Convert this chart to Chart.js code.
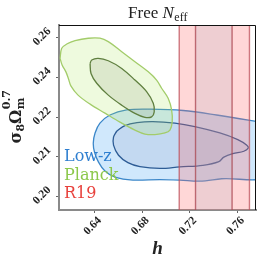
<!DOCTYPE html>
<html><head><meta charset="utf-8">
<script src="https://cdn.jsdelivr.net/npm/chart.js@4/dist/chart.umd.min.js"></script>
<style>html,body{margin:0;padding:0;background:#fff;overflow:hidden}#wrap{width:266px;height:266px}</style>
</head><body><div id="wrap"><canvas id="c" width="266" height="266"></canvas></div>
<script>
// ---- text ----
const titleMain = 'Free ';
const titleSym = 'N';
const titleSub = 'eff';
const xLabel = 'h';
const seriesNames = ['Low-z', 'Planck', 'R19'];
// ---- ticks ----
const hTicks = [0.64, 0.68, 0.72, 0.76];
const hTickLabels = ['0.64', '0.68', '0.72', '0.76'];
const sTicks = [0.195, 0.21, 0.225, 0.24, 0.255];
const sTickLabels = ['0.20', '0.21', '0.22', '0.24', '0.26'];
// ---- Low-z contours (h, sigma8*Om^0.7) ----
const lowz95H = [0.785,0.7424,0.7143,0.6864,0.6668,0.6528,0.6444,0.6403,0.6388,0.6398,0.6432,0.6486,0.6570,0.6721,0.6948,0.7116,0.7283,0.7466,0.785,0.785];
const lowz95S = [0.2227,0.2258,0.2275,0.2280,0.2277,0.2258,0.2227,0.2190,0.2152,0.2118,0.2080,0.2046,0.2023,0.2012,0.2014,0.2012,0.2008,0.2017,0.2031,0.2227];
const lowz68H = [0.6585,0.6654,0.6755,0.6889,0.7074,0.7241,0.7451,0.7602,0.7678,0.7690,0.7653,0.7560,0.7485,0.7443,0.7309,0.7116,0.6948,0.6780,0.6679,0.6600,0.6558,0.6558,0.6585];
const lowz68S = [0.2197,0.2218,0.2229,0.2233,0.2227,0.2214,0.2190,0.2165,0.2144,0.2133,0.2121,0.2112,0.2099,0.2082,0.2068,0.2062,0.2056,0.2063,0.2078,0.2106,0.2144,0.2174,0.2197];
// ---- Planck contours ----
const planck95H = [0.6109,0.6123,0.6165,0.6235,0.6346,0.6444,0.6514,0.6627,0.6738,0.6850,0.6920,0.6962,0.7017,0.7046,0.7051,0.7032,0.6990,0.6906,0.6822,0.6738,0.6612,0.6486,0.6361,0.6260,0.6201,0.6180,0.6159,0.6126,0.6109];
const planck95S = [0.2472,0.2510,0.2526,0.2539,0.2548,0.2548,0.2535,0.2497,0.2459,0.2421,0.2390,0.2359,0.2321,0.2277,0.2232,0.2201,0.2190,0.2184,0.2186,0.2201,0.2231,0.2265,0.2299,0.2333,0.2367,0.2394,0.2420,0.2447,0.2472];
const planck68H = [0.6361,0.6375,0.6430,0.6514,0.6627,0.6738,0.6836,0.6892,0.6900,0.6878,0.6822,0.6738,0.6627,0.6514,0.6417,0.6369,0.6361];
const planck68S = [0.2453,0.2466,0.2472,0.2463,0.2434,0.2390,0.2346,0.2302,0.2270,0.2251,0.2249,0.2264,0.2295,0.2333,0.2378,0.2415,0.2453];
// ---- R19 bands (h edges) ----
const r19Outer = [0.711, 0.770];
const r19Inner = [0.7247, 0.7554];
// ---- axis ranges ----
const hRange = [0.610, 0.7755];
const sRange = [0.1899, 0.2598];

const pts = (H, S) => H.map((h, i) => ({x: h, y: S[i]}));
const band = (e) => [{x:e[0],y:0.15},{x:e[0],y:0.30},{x:e[1],y:0.30},{x:e[1],y:0.15},{x:e[0],y:0.15}];

const contour = (label, data, fillC, lineC, order, lw) => ({
  label, data, showLine: true, fill: 'shape', backgroundColor: fillC, borderColor: lineC,
  borderWidth: lw, pointRadius: 0, pointHoverRadius: 0, tension: 0.35, order
});

const datasets = [
  contour(seriesNames[0] + ' 95', pts(lowz95H, lowz95S), 'rgba(120,190,245,0.35)', '#3b87c9', 8, 1.3),
  contour(seriesNames[0] + ' 68', pts(lowz68H, lowz68S), 'rgba(110,125,175,0.14)', '#2d5c95', 7, 1.3),
  contour(seriesNames[1] + ' 95', pts(planck95H, planck95S), 'rgba(170,230,90,0.2)', '#a3cc6a', 6, 1.3),
  contour(seriesNames[1] + ' 68', pts(planck68H, planck68S), 'rgba(120,130,100,0.15)', '#5f7f3f', 5, 1.3),
  Object.assign(contour(seriesNames[2] + ' 95', band(r19Outer), 'rgba(255,100,100,0.26)', 'rgba(190,80,90,0.75)', 4, 1.4), {tension: 0}),
  Object.assign(contour(seriesNames[2] + ' 68', band(r19Inner), 'rgba(170,170,190,0.2)', 'rgba(170,70,80,0.75)', 3, 1.4), {tension: 0})
];

const SERIF = '"Liberation Serif", serif';
const DSERIF = '"DejaVu Serif", serif';
const legendColors = ['#2f7fd0', '#8cc84b', '#e8413c'];

const textPlugin = {
  id: 'texts',
  afterDraw(chart) {
    const ctx = chart.ctx, a = chart.chartArea, xs = chart.scales.x, ys = chart.scales.y;
    ctx.save();
    // top & right frame
    ctx.strokeStyle = '#111'; ctx.lineWidth = 1;
    ctx.beginPath();
    ctx.moveTo(a.left, a.top + 0.5); ctx.lineTo(a.right - 0.5, a.top + 0.5); ctx.lineTo(a.right - 0.5, a.bottom);
    ctx.stroke();
    // tick labels
    ctx.fillStyle = '#222';
    ctx.font = 'bold 11.5px ' + SERIF; ctx.textAlign = 'center'; ctx.textBaseline = 'middle';
    hTicks.forEach((v, i) => {
      const px = xs.getPixelForValue(v);
      ctx.save(); ctx.translate(px - 2, a.bottom + 16); ctx.rotate(-Math.PI / 4);
      ctx.fillText(hTickLabels[i], 0, 0); ctx.restore();
    });
    sTicks.forEach((v, i) => {
      const py = ys.getPixelForValue(v);
      ctx.save(); ctx.translate(a.left - 17, py - 1); ctx.rotate(-Math.PI / 4);
      ctx.fillText(sTickLabels[i], 0, 0); ctx.restore();
    });
    // title
    ctx.textBaseline = 'alphabetic'; ctx.textAlign = 'left';
    const fMain = '17px ' + SERIF, fSym = 'italic 17px ' + SERIF, fSub = '12px ' + SERIF;
    ctx.font = fMain; const w1 = ctx.measureText(titleMain).width;
    ctx.font = fSym; const w2 = ctx.measureText(titleSym).width;
    ctx.font = fSub; const w3 = ctx.measureText(titleSub).width;
    let tx = (a.left + a.right) / 2 - (w1 + w2 + w3) / 2;
    const tb = 17.5;
    ctx.fillStyle = '#222';
    ctx.font = fMain; ctx.fillText(titleMain, tx, tb); tx += w1;
    ctx.font = fSym; ctx.fillText(titleSym, tx, tb); tx += w2 + 0.5;
    ctx.font = fSub; ctx.fillText(titleSub, tx, tb + 3);
    // x label
    ctx.font = 'bold italic 19px ' + SERIF; ctx.textAlign = 'center';
    ctx.fillText(xLabel, (a.left + a.right) / 2, 254);
    // y label
    ctx.save(); ctx.translate(20.5, 117); ctx.rotate(-Math.PI / 2); ctx.textAlign = 'left';
    const big = 'bold 16px ' + DSERIF, small = 'bold 11px ' + DSERIF;
    ctx.font = big; const ws = ctx.measureText('σ').width, wo = ctx.measureText('Ω').width;
    ctx.font = small; const w8 = ctx.measureText('8').width, wm = ctx.measureText('m').width, w07 = ctx.measureText('0.7').width;
    let lx = -(ws + w8 + wo + Math.max(wm, w07)) / 2;
    ctx.font = big; ctx.fillText('σ', lx, 0); lx += ws;
    ctx.font = small; ctx.fillText('8', lx, 3); lx += w8;
    ctx.font = big; ctx.fillText('Ω', lx, 0); lx += wo + 0.5;
    ctx.font = small; ctx.fillText('m', lx, 3.5); ctx.fillText('0.7', lx, -10.5);
    ctx.restore();
    // legend texts
    ctx.font = '16px ' + DSERIF; ctx.textAlign = 'left';
    const lb = [161, 179.5, 197.5];
    seriesNames.forEach((n, i) => { ctx.fillStyle = legendColors[i]; ctx.fillText(n, a.left + 5, lb[i]); });
    ctx.restore();
  }
};

new Chart(document.getElementById('c'), {
  type: 'scatter',
  data: {datasets},
  options: {
    responsive: false, animation: false, devicePixelRatio: 1,
    layout: {padding: {left: 0, right: 10, top: 25, bottom: 0}},
    elements: {line: {capBezierPoints: false}},
    plugins: {legend: {display: false}, tooltip: {enabled: false}, filler: {propagate: false}},
    events: [],
    scales: {
      x: {
        type: 'linear', min: hRange[0], max: hRange[1],
        afterBuildTicks: s => { s.ticks = hTicks.map(v => ({value: v})); },
        afterFit: s => { s.height = 56; },
        ticks: {display: false},
        grid: {drawOnChartArea: false, drawTicks: true, tickLength: 3, color: '#666'},
        border: {display: true, color: '#8a8a8a', width: 2}
      },
      y: {
        type: 'linear', min: sRange[0], max: sRange[1],
        afterBuildTicks: s => { s.ticks = sTicks.map(v => ({value: v})); },
        afterFit: s => { s.width = 59; },
        ticks: {display: false},
        grid: {drawOnChartArea: false, drawTicks: true, tickLength: 3, color: '#666'},
        border: {display: true, color: '#8a8a8a', width: 2}
      }
    }
  },
  plugins: [textPlugin]
});
</script></body></html>
